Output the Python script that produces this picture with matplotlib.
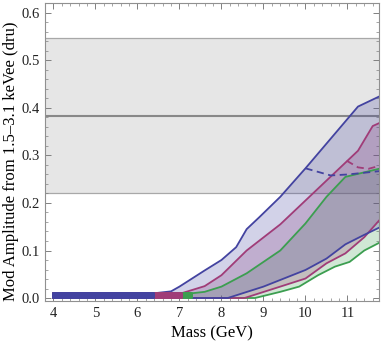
import numpy as np
import matplotlib
matplotlib.use("Agg")
import matplotlib.pyplot as plt
from matplotlib.ticker import MultipleLocator

# --- data ---
band_lo, band_mid, band_hi = 0.22, 0.384, 0.548

blue_up_x = [4.0, 6.4, 6.8, 7.0, 7.6, 8.0, 8.35, 8.6, 8.9, 9.4, 10.0, 11.25, 11.75]
blue_up_y = [0.01, 0.01, 0.014, 0.024, 0.058, 0.080, 0.107, 0.145, 0.170, 0.213, 0.273, 0.403, 0.424]
blue_lo_x = [4.0, 8.15, 9.0, 9.4, 10.0, 10.5, 10.95, 11.4, 11.75]
blue_lo_y = [0.0, 0.0, 0.024, 0.038, 0.059, 0.083, 0.113, 0.133, 0.148]
blue_dash_x = [10.0, 10.6, 11.0, 11.75]
blue_dash_y = [0.273, 0.258, 0.260, 0.267]

mag_up_x = [4.0, 7.05, 7.6, 8.0, 8.6, 9.4, 11.25, 11.6, 11.75]
mag_up_y = [0.01, 0.01, 0.025, 0.048, 0.100, 0.155, 0.310, 0.362, 0.368]
mag_lo_x = [4.0, 8.55, 9.4, 10.0, 10.5, 10.95, 11.4, 11.75]
mag_lo_y = [0.0, 0.0, 0.024, 0.041, 0.073, 0.094, 0.128, 0.163]
mag_dash_x = [10.98, 11.25, 11.5, 11.75]
mag_dash_y = [0.289, 0.275, 0.272, 0.278]

grn_up_x = [4.0, 7.3, 7.6, 8.0, 8.6, 9.4, 10.0, 10.5, 10.95, 11.75]
grn_up_y = [0.01, 0.01, 0.013, 0.024, 0.052, 0.100, 0.157, 0.213, 0.255, 0.272]
grn_lo_x = [4.0, 8.8, 9.4, 9.85, 10.3, 10.7, 11.05, 11.4, 11.75]
grn_lo_y = [0.0, 0.0, 0.013, 0.024, 0.048, 0.066, 0.076, 0.100, 0.116]

x_ticks = [4, 5, 6, 7, 8, 9, 10, 11]
y_ticks = [0.0, 0.1, 0.2, 0.3, 0.4, 0.5, 0.6]

BLUE = "#4343a0"
MAG = "#a03c78"
GRN = "#3c9e50"

plt.rcParams['font.family'] = ['Liberation Serif', 'DejaVu Serif']
plt.rcParams['font.size'] = 10.5

fig = plt.figure(figsize=(3.81, 3.46), dpi=100)
ax = fig.add_axes([45 / 381, 45 / 346, 334 / 381, 298 / 346])

# measured band
ax.axhspan(band_lo, band_hi, color="#e6e6e6", zorder=0, lw=0)
ax.axhline(band_lo, color="#a8a8a8", lw=0.9, zorder=1)
ax.axhline(band_hi, color="#a8a8a8", lw=0.9, zorder=1)
ax.axhline(band_mid, color="#888888", lw=1.5, zorder=1)

models = [
    (grn_up_x, grn_up_y, grn_lo_x, grn_lo_y, GRN),
    (mag_up_x, mag_up_y, mag_lo_x, mag_lo_y, MAG),
    (blue_up_x, blue_up_y, blue_lo_x, blue_lo_y, BLUE),
]

for ux, uy, lx, ly, c in models:
    px = np.r_[ux, lx[::-1]]
    py = np.r_[uy, ly[::-1]]
    ax.fill(px, py, color=c, alpha=0.24, lw=0, zorder=2)

for ux, uy, lx, ly, c in models:
    ax.plot(ux, uy, color=c, lw=1.3, zorder=3)
    ax.plot(lx, ly, color=c, lw=1.3, zorder=3)

ax.plot(blue_dash_x, blue_dash_y, color=BLUE, lw=1.3, ls=(0, (4, 2.5)), zorder=3)
ax.plot(mag_dash_x, mag_dash_y, color=MAG, lw=1.3, ls=(0, (4, 2.5)), zorder=3)

# plateau where the upper bound is still flat at zero: drawn thick
for ux, uy, lx, ly, c in models:
    ux = np.array(ux)
    uy = np.array(uy)
    flat = uy <= uy[0]
    ax.fill_between(ux[flat], 0, uy[flat], color=c, lw=1.4, edgecolor=c, zorder=4)

ax.set_xlim(3.8, 11.75)
ax.set_ylim(-0.0063, 0.621)
ax.set_xticks(x_ticks)
ax.set_yticks(y_ticks)
ax.set_yticklabels([f"{v:.1f}" for v in y_ticks])
ax.xaxis.set_minor_locator(MultipleLocator(0.2))
ax.yaxis.set_minor_locator(MultipleLocator(0.02))
ax.tick_params(which="both", direction="in", top=True, right=True,
               color="#808080", labelcolor="#222222")
ax.tick_params(which="major", length=4, width=0.7, pad=4)
ax.tick_params(which="minor", length=2.2, width=0.5)
for s in ax.spines.values():
    s.set_color("#909090")
    s.set_linewidth(0.8)

ax.set_xlabel("Mass (GeV)", fontsize=12, labelpad=4)
ax.set_ylabel("Mod Amplitude from 1.5\u20133.1 keVee (dru)", fontsize=12)
ax.yaxis.set_label_coords(-0.078, 0.47)

fig.savefig("out.png", dpi=100)
